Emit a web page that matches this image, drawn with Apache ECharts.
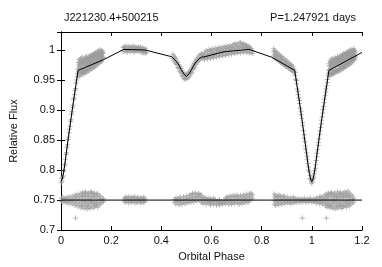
<!DOCTYPE html>
<html>
<head>
<meta charset="utf-8">
<style>html,body{margin:0;padding:0;background:#fff}#c{width:382px;height:267px}</style>
<script src="https://cdn.jsdelivr.net/npm/echarts@6/dist/echarts.min.js"></script>
</head>
<body>
<div id="c"></div>
<script>
// ---- data ----
var titleLeft = 'J221230.4+500215';
var titleRight = 'P=1.247921 days';
var xTicks = [0, 0.2, 0.4, 0.6, 0.8, 1, 1.2];
var yTicks = [0.7, 0.75, 0.8, 0.85, 0.9, 0.95, 1];

// model light curve [phase, relative flux]
var modelCurve = [
  [0.000,0.781],[0.005,0.785],[0.010,0.795],[0.015,0.809],[0.020,0.825],[0.030,0.856],[0.040,0.886],
  [0.050,0.915],[0.060,0.943],[0.068,0.966],[0.170,0.984],[0.250,1.001],[0.335,1.000],[0.430,0.990],
  [0.440,0.989],[0.450,0.985],[0.460,0.981],[0.470,0.975],[0.480,0.967],[0.490,0.960],[0.500,0.956],
  [0.510,0.960],[0.520,0.967],[0.530,0.975],[0.540,0.981],[0.550,0.985],[0.560,0.988],[0.575,0.989],
  [0.650,0.997],[0.750,1.001],[0.840,0.988],[0.932,0.966],[0.940,0.943],[0.950,0.915],[0.960,0.886],
  [0.970,0.856],[0.980,0.825],[0.985,0.809],[0.990,0.795],[0.995,0.785],[1.000,0.781],[1.005,0.785],
  [1.010,0.795],[1.015,0.809],[1.020,0.825],[1.030,0.856],[1.040,0.886],[1.050,0.915],[1.060,0.943],
  [1.068,0.966],[1.200,0.996]
];
// residual baseline (offset to 0.75)
var residualLine = [[0,0.75],[1.2,0.75]];

// observed light-curve points: rows of [phase, flux, flux, ...]
var obsRows = [
  [0.001,0.779],[0.003,0.786],[0.004,0.782],[0.006,0.788],[0.008,0.790],[0.010,0.797],[0.012,0.800],
  [0.014,0.808],[0.016,0.810],[0.018,0.818],[0.020,0.826],[0.022,0.829],[0.024,0.838],[0.026,0.842],
  [0.028,0.851],[0.030,0.855],[0.032,0.862],[0.034,0.868],[0.036,0.873],[0.038,0.881],[0.040,0.884],
  [0.042,0.893],[0.044,0.897],[0.046,0.904],[0.048,0.908],[0.050,0.917],[0.052,0.920],[0.054,0.926],
  [0.056,0.933],[0.058,0.936],[0.060,0.945],[0.062,0.950],[0.064,0.955],[0.066,0.961],[0.068,0.968],
  [0.069,0.958,0.968,0.979],[0.072,0.962,0.973,0.984],[0.075,0.956,0.970,0.977],[0.078,0.965,0.975,0.986],
  [0.081,0.960,0.971,0.982],[0.084,0.963,0.977,0.988],[0.087,0.959,0.969,0.981],[0.090,0.966,0.974,0.985],
  [0.093,0.961,0.978,0.983],[0.096,0.964,0.972,0.988],[0.099,0.967,0.976,0.984],[0.102,0.962,0.980,0.990],
  [0.105,0.968,0.974,0.986],[0.108,0.965,0.979,0.983],[0.111,0.970,0.977,0.989],[0.114,0.966,0.982,0.987],
  [0.117,0.971,0.978,0.992],[0.120,0.968,0.983,0.988],[0.123,0.972,0.980,0.991],[0.126,0.969,0.985,0.993],
  [0.129,0.974,0.981,0.989],[0.132,0.971,0.986,0.994],[0.135,0.976,0.983,0.991],[0.138,0.973,0.988,0.996],
  [0.141,0.978,0.985,0.993],[0.144,0.975,0.989,0.997],[0.147,0.979,0.986,0.994],[0.150,0.977,0.990,0.999],
  [0.153,0.981,0.987,0.995],[0.156,0.979,0.992,1.001],[0.159,0.983,0.989,0.997],[0.162,0.981,0.993,0.999],
  [0.165,0.985,0.990,0.996],[0.168,0.987,0.994],
  [0.0705,0.964,0.975],[0.0765,0.961,0.981],[0.0825,0.967,0.979],[0.0885,0.963,0.978],[0.0945,0.968,0.980],
  [0.1005,0.965,0.985],[0.1065,0.970,0.982],[0.1125,0.973,0.985],[0.1185,0.975,0.987],[0.1245,0.977,0.989],
  [0.1305,0.978,0.991],[0.1365,0.979,0.994],[0.1425,0.981,0.990],[0.1485,0.983,0.996],[0.1545,0.984,0.992],
  [0.1605,0.986,0.995],[0.1665,0.988,0.998],
  [0.248,0.997,1.004],[0.252,1.001,1.006],[0.256,0.998,1.003],[0.260,1.000,1.007],[0.264,0.996,1.002],
  [0.268,0.999,1.005],[0.272,1.001,1.006],[0.276,0.997,1.003],[0.280,1.000,1.005],[0.284,0.998,1.004],
  [0.288,1.001,1.007],[0.292,0.996,1.002],[0.296,0.999,1.005],[0.300,1.000,1.004],[0.304,0.997,1.003],
  [0.308,1.001,1.006],[0.312,0.998,1.002],[0.316,0.999,1.005],[0.320,0.996,1.001],[0.324,0.998,1.004],
  [0.328,0.995,1.002],[0.332,0.997,1.000],[0.336,0.994,1.003],[0.340,0.996,0.999],
  [0.446,0.986,0.993],[0.450,0.983,0.990],[0.454,0.980,0.988],[0.458,0.977,0.986],[0.462,0.976,0.982],
  [0.466,0.971,0.979],[0.470,0.969,0.976],[0.474,0.964,0.972],[0.478,0.962,0.969],[0.482,0.958,0.966],
  [0.486,0.956,0.963],[0.490,0.953,0.960],[0.494,0.951,0.958],[0.498,0.953,0.959],[0.502,0.952,0.960],
  [0.506,0.954,0.961],[0.510,0.955,0.963],[0.514,0.958,0.965],[0.518,0.961,0.968],[0.522,0.963,0.971],
  [0.526,0.967,0.974],[0.530,0.970,0.977],[0.534,0.972,0.980],[0.538,0.976,0.983],[0.542,0.979,0.985],
  [0.546,0.981,0.987],[0.550,0.983,0.990],[0.555,0.985,0.992],[0.560,0.987,0.994],[0.565,0.986,0.993],
  [0.572,0.984,0.991,0.996],[0.578,0.987,0.993,0.999],[0.584,0.985,0.990,0.998],[0.590,0.988,0.994,1.001],
  [0.596,0.986,0.992,0.999],[0.602,0.989,0.995,1.002],[0.608,0.987,0.993,1.000],[0.614,0.990,0.996,1.003],
  [0.620,0.988,0.994,1.001],[0.626,0.991,0.997,1.004],[0.632,0.989,0.995,1.002],[0.638,0.992,0.998,1.005],
  [0.644,0.990,0.996,1.003],[0.650,0.993,0.999,1.006],[0.656,0.991,0.997,1.004],[0.662,0.994,1.000,1.007],
  [0.668,0.992,0.998,1.005],[0.674,0.995,1.001,1.008],[0.680,0.993,0.999,1.006],[0.686,0.996,1.002,1.009],
  [0.692,0.994,1.000,1.010],[0.698,0.996,1.003,1.011],[0.704,0.995,1.001,1.008],[0.710,0.997,1.004,1.012],
  [0.716,0.995,1.002,1.013],[0.722,0.998,1.005,1.010],[0.728,0.996,1.003,1.011],[0.734,0.998,1.004,1.009],
  [0.740,0.996,1.002,1.008],[0.746,0.997,1.003,1.007],[0.752,0.995,1.000,1.005],[0.758,0.996,1.002],
  [0.764,0.994,0.999],
  [0.575,0.988],[0.587,0.992],[0.599,0.997],[0.611,0.994],[0.623,0.999],[0.635,1.000],[0.647,0.998],
  [0.659,1.002],[0.671,1.003],[0.683,1.004],[0.695,1.006],[0.707,1.006],[0.719,1.008],[0.731,1.006],
  [0.743,1.005],[0.755,1.003],
  [0.848,0.990,0.997,1.002],[0.852,0.986,0.993,0.999],[0.856,0.988,0.995],[0.860,0.984,0.991,0.997],
  [0.865,0.983,0.989,0.994],[0.870,0.981,0.987,0.992],[0.875,0.980,0.985,0.990],[0.880,0.978,0.984,0.989],
  [0.885,0.976,0.982,0.987],[0.890,0.975,0.980,0.985],[0.895,0.973,0.978,0.983],[0.900,0.972,0.977,0.982],
  [0.905,0.970,0.975,0.980],[0.910,0.969,0.974,0.978],[0.915,0.967,0.972,0.976],[0.920,0.966,0.970,0.975],
  [0.925,0.964,0.969,0.973],[0.930,0.963,0.967],
  [0.933,0.958,0.963],[0.936,0.951],[0.939,0.944,0.949],[0.942,0.935],[0.945,0.926,0.931],[0.948,0.920],
  [0.951,0.911,0.916],[0.954,0.903],[0.957,0.892,0.898],[0.960,0.886],[0.963,0.874,0.879],[0.966,0.866],
  [0.969,0.853,0.859],[0.972,0.847],[0.975,0.835,0.840],[0.978,0.829],[0.981,0.817,0.823],[0.984,0.811],
  [0.987,0.800,0.805],[0.990,0.797],[0.993,0.786,0.791],[0.996,0.784],[0.999,0.778,0.782],[1.002,0.780,0.784],
  [1.005,0.786],[1.008,0.789,0.794],[1.011,0.799],[1.014,0.803,0.809],[1.017,0.816],[1.020,0.822,0.828],
  [1.023,0.834],[1.026,0.841,0.846],[1.029,0.852],[1.032,0.859,0.865],[1.035,0.871],[1.038,0.877,0.883],
  [1.041,0.889],[1.044,0.895,0.901],[1.047,0.906],[1.050,0.912,0.918],[1.053,0.924],[1.056,0.930,0.935],
  [1.059,0.940],[1.062,0.946,0.951],[1.065,0.957],[1.068,0.961,0.966],
  [1.069,0.957,0.967,0.977],[1.072,0.961,0.972,0.982],[1.075,0.958,0.969,0.979],[1.078,0.963,0.974,0.985],
  [1.081,0.959,0.970,0.981],[1.084,0.962,0.976,0.986],[1.087,0.960,0.971,0.983],[1.090,0.964,0.975,0.984],
  [1.093,0.962,0.977,0.987],[1.096,0.965,0.973,0.986],[1.099,0.966,0.978,0.985],[1.102,0.963,0.979,0.989],
  [1.105,0.967,0.975,0.987],[1.108,0.965,0.980,0.984],[1.111,0.969,0.976,0.990],[1.114,0.966,0.981,0.988],
  [1.117,0.970,0.979,0.991],[1.120,0.968,0.982,0.989],[1.123,0.971,0.981,0.992],[1.126,0.969,0.984,0.994],
  [1.129,0.973,0.982,0.990],[1.132,0.971,0.985,0.995],[1.135,0.975,0.983,0.992],[1.138,0.972,0.987,0.996],
  [1.141,0.977,0.985,0.994],[1.144,0.974,0.988,0.997],[1.147,0.978,0.986,0.995],[1.150,0.976,0.989,0.999],
  [1.153,0.980,0.987,0.996],[1.156,0.978,0.991,1.001],[1.159,0.982,0.988,0.998],[1.162,0.980,0.992,1.000],
  [1.165,0.984,0.990,0.997],[1.168,0.983,0.993,1.002],[1.171,0.985,0.991,0.999],[1.174,0.987,0.995],
  [1.0705,0.963,0.974],[1.0765,0.960,0.980],[1.0825,0.966,0.978],[1.0885,0.962,0.979],[1.0945,0.967,0.981],
  [1.1005,0.964,0.984],[1.1065,0.969,0.983],[1.1125,0.972,0.986],[1.1185,0.974,0.986],[1.1245,0.976,0.988],
  [1.1305,0.977,0.992],[1.1365,0.978,0.993],[1.1425,0.980,0.991],[1.1485,0.982,0.995],[1.1545,0.983,0.993],
  [1.1605,0.985,0.996],[1.1665,0.987,0.999],[1.1725,0.989,0.997]
];

// residual points (offset to 0.75): rows of [phase, value, value, ...]
var resRows = [
  [0.002,0.748,0.753],[0.008,0.746,0.751,0.755],[0.014,0.749,0.752],[0.020,0.745,0.750,0.754],
  [0.026,0.747,0.753],[0.032,0.744,0.749,0.756],[0.038,0.748,0.752],[0.044,0.743,0.750,0.757],
  [0.050,0.746,0.753],[0.056,0.741,0.748,0.755,0.759],[0.062,0.744,0.751,0.757],
  [0.068,0.739,0.747,0.754,0.760],[0.074,0.742,0.750,0.758],[0.080,0.737,0.745,0.752,0.761],
  [0.086,0.740,0.748,0.756,0.763],[0.092,0.736,0.744,0.753,0.759],[0.098,0.739,0.749,0.757,0.764],
  [0.104,0.735,0.743,0.751,0.760],[0.110,0.738,0.746,0.755,0.762],[0.116,0.736,0.744,0.752,0.759],
  [0.122,0.740,0.748,0.756,0.763],[0.128,0.737,0.745,0.753,0.761],[0.134,0.739,0.747,0.755,0.762],
  [0.140,0.741,0.749,0.757],[0.146,0.738,0.746,0.753,0.760],[0.152,0.742,0.750,0.758],
  [0.158,0.744,0.751,0.756],[0.164,0.746,0.753],[0.170,0.748,0.752],
  [0.083,0.741,0.757],[0.095,0.747,0.762],[0.107,0.741,0.757],[0.119,0.748,0.764],[0.131,0.743,0.758],
  [0.143,0.744,0.761],
  [0.252,0.748,0.753],[0.258,0.746,0.752,0.755],[0.264,0.749,0.754],[0.270,0.745,0.751,0.756],
  [0.276,0.748,0.753],[0.282,0.746,0.750,0.755],[0.288,0.749,0.754],[0.294,0.745,0.752,0.756],
  [0.300,0.747,0.751],[0.306,0.746,0.753,0.755],[0.312,0.748,0.752],[0.318,0.745,0.750,0.754],
  [0.324,0.747,0.753],[0.330,0.746,0.751,0.755],[0.336,0.748,0.752],
  [0.452,0.746,0.751],[0.458,0.743,0.749,0.754],[0.464,0.747,0.752],[0.470,0.742,0.748,0.753],
  [0.476,0.745,0.750,0.755],[0.482,0.743,0.749],[0.488,0.746,0.752,0.756],[0.494,0.744,0.750],
  [0.500,0.747,0.753,0.757],[0.506,0.745,0.751],[0.512,0.748,0.754,0.758],[0.518,0.746,0.752,0.759],
  [0.524,0.749,0.755,0.761],[0.530,0.747,0.753,0.760],[0.536,0.750,0.756,0.762],[0.542,0.748,0.754,0.759],
  [0.548,0.751,0.757,0.761],[0.554,0.749,0.755,0.760],[0.560,0.746,0.752,0.758],[0.566,0.744,0.750,0.755],
  [0.572,0.747,0.753],[0.578,0.743,0.749,0.754],[0.584,0.746,0.751],[0.590,0.744,0.748,0.753],
  [0.596,0.742,0.747,0.752],[0.602,0.745,0.750],[0.608,0.743,0.748,0.753],[0.614,0.745,0.751],
  [0.620,0.742,0.747],[0.626,0.744,0.749],[0.632,0.742,0.746,0.751],[0.638,0.744,0.748],
  [0.644,0.743,0.747],[0.650,0.745,0.750],[0.656,0.744,0.749,0.753],[0.662,0.746,0.751,0.756],
  [0.668,0.743,0.749,0.754],[0.674,0.745,0.751,0.757],[0.680,0.743,0.748,0.755],[0.686,0.746,0.752,0.758],
  [0.692,0.744,0.750,0.756],[0.698,0.747,0.753,0.758],[0.704,0.745,0.751,0.757],[0.710,0.743,0.749,0.755],
  [0.716,0.746,0.752,0.758],[0.722,0.744,0.750,0.756],[0.728,0.747,0.753,0.759],[0.734,0.745,0.751,0.757],
  [0.740,0.748,0.754,0.760],[0.746,0.746,0.752,0.758],[0.752,0.749,0.755,0.761],[0.758,0.751,0.757,0.762],
  [0.764,0.753,0.759],
  [0.850,0.743,0.749,0.755,0.760],[0.856,0.741,0.747,0.753,0.758],[0.862,0.744,0.750,0.756],
  [0.868,0.742,0.748,0.754,0.759],[0.874,0.745,0.751,0.757],[0.880,0.743,0.749,0.755],
  [0.886,0.746,0.752,0.757],[0.892,0.744,0.750,0.756],[0.898,0.747,0.752],[0.904,0.745,0.750,0.755],
  [0.910,0.746,0.751],[0.916,0.744,0.749,0.754],[0.922,0.747,0.752],[0.928,0.745,0.750,0.755],
  [0.934,0.747,0.752],[0.940,0.746,0.751],[0.946,0.748,0.753],[0.952,0.746,0.750],[0.958,0.748,0.752],
  [0.962,0.720],[0.964,0.747,0.751],[0.970,0.749,0.753],[0.976,0.746,0.750],[0.982,0.748,0.752],
  [0.988,0.747,0.751],[0.994,0.749,0.753],[1.000,0.746,0.750],[1.006,0.748,0.752],[1.012,0.747,0.751],
  [1.018,0.745,0.750,0.754],[1.024,0.747,0.752],[1.030,0.744,0.749,0.755],[1.036,0.746,0.751,0.756],
  [1.042,0.743,0.748,0.754],[1.048,0.745,0.751,0.757],[1.054,0.741,0.747,0.753,0.759],[1.058,0.720],
  [1.060,0.738,0.745,0.752,0.760],[1.066,0.740,0.748,0.755,0.762],[1.072,0.737,0.744,0.751,0.759],
  [1.078,0.739,0.747,0.756,0.763],[1.084,0.736,0.743,0.752,0.760],[1.090,0.738,0.746,0.754,0.762],
  [1.096,0.735,0.744,0.751,0.759],[1.102,0.739,0.748,0.756,0.764],[1.108,0.737,0.745,0.753,0.761],
  [1.114,0.740,0.747,0.755,0.763],[1.120,0.736,0.744,0.752,0.760],[1.126,0.739,0.748,0.756,0.762],
  [1.132,0.741,0.749,0.757,0.764],[1.138,0.738,0.746,0.754,0.761],[1.144,0.742,0.750,0.758,0.765],
  [1.150,0.740,0.748,0.755,0.762],[1.156,0.743,0.751,0.759],[1.162,0.745,0.752,0.757],[1.168,0.747,0.753],
  [1.063,0.742,0.757],[1.075,0.741,0.761],[1.087,0.749,0.758],[1.099,0.740,0.756],[1.111,0.742,0.759],
  [1.123,0.740,0.757],[1.135,0.744,0.760],[1.147,0.745,0.757],
  [0.058,0.720]
];

// ---- build ----
function flatten(rows) {
  var out = [];
  rows.forEach(function (r) { for (var i = 1; i < r.length; i++) out.push([r[0], r[i]]); });
  return out;
}
var obsPoints = flatten(obsRows);
var resPoints = flatten(resRows);

var FONT = 'Liberation Sans, Arial, Helvetica, sans-serif';
var plus = 'path://M4,0H6V4H10V6H6V10H4V6H0V4H4Z';

var chart = echarts.init(document.getElementById('c'), null, {renderer: 'canvas'});
chart.setOption({
  animation: false,
  backgroundColor: '#fff',
  textStyle: {fontFamily: FONT},
  title: [
    {text: titleLeft, left: 59, top: 7, textStyle: {fontFamily: FONT, fontSize: 11, fontWeight: 'normal', color: '#111'}},
    {text: titleRight, right: 21, top: 7, textStyle: {fontFamily: FONT, fontSize: 11, fontWeight: 'normal', color: '#111'}}
  ],
  grid: {left: 58, right: 20, top: 32, bottom: 35, containLabel: false},
  xAxis: [{
    type: 'value', min: xTicks[0], max: xTicks[xTicks.length - 1], interval: 0.2,
    name: 'Orbital Phase', nameLocation: 'middle', nameGap: 19,
    nameTextStyle: {fontFamily: FONT, fontSize: 11, color: '#111'},
    axisLine: {show: true, lineStyle: {color: '#000', width: 1}},
    axisTick: {show: true, inside: true, length: 4, lineStyle: {color: '#000'}},
    axisLabel: {fontFamily: FONT, fontSize: 11, color: '#111', margin: 5},
    splitLine: {show: false}
  }, {
    type: 'value', position: 'top', min: xTicks[0], max: xTicks[xTicks.length - 1], interval: 0.2,
    axisLine: {show: true, lineStyle: {color: '#000', width: 1}},
    axisTick: {show: true, inside: true, length: 4, lineStyle: {color: '#000'}},
    axisLabel: {show: false}, splitLine: {show: false}
  }],
  yAxis: [{
    type: 'value', min: yTicks[0], max: 1.03, interval: 0.05,
    name: 'Relative Flux', nameLocation: 'middle', nameGap: 42,
    nameTextStyle: {fontFamily: FONT, fontSize: 11, color: '#111'},
    axisLine: {show: true, lineStyle: {color: '#000', width: 1}},
    axisTick: {show: true, inside: true, length: 4, lineStyle: {color: '#000'}},
    axisLabel: {fontFamily: FONT, fontSize: 11, color: '#111', margin: 6, showMaxLabel: false},
    splitLine: {show: false}
  }, {
    type: 'value', position: 'right', min: yTicks[0], max: 1.03, interval: 0.05,
    axisLine: {show: true, lineStyle: {color: '#000', width: 1}},
    axisTick: {show: true, inside: true, length: 4, lineStyle: {color: '#000'}},
    axisLabel: {show: false}, splitLine: {show: false}
  }],
  series: [
    {type: 'scatter', data: obsPoints, symbol: plus, symbolSize: 5, silent: true,
     itemStyle: {color: '#9a9a9a', opacity: 0.75}},
    {type: 'scatter', data: resPoints, symbol: plus, symbolSize: 5, silent: true,
     itemStyle: {color: '#9a9a9a', opacity: 0.75}},
    {type: 'line', data: modelCurve, showSymbol: false, silent: true,
     lineStyle: {color: '#000', width: 1}},
    {type: 'line', data: residualLine, showSymbol: false, silent: true,
     lineStyle: {color: '#000', width: 1}}
  ]
});
</script>
</body>
</html>
